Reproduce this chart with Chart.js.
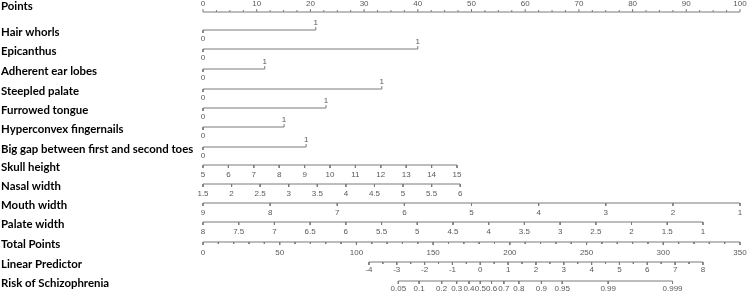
<!DOCTYPE html>
<html>
<head>
<meta charset="utf-8">
<script src="https://cdn.jsdelivr.net/npm/chart.js@4.4.1/dist/chart.umd.min.js"></script>
<style>
  html, body { margin: 0; padding: 0; background: #fff; }
  #wrap { width: 747px; height: 293px; }
</style>
</head>
<body>
<div id="wrap"><canvas id="nomo" width="747" height="293"></canvas></div>
<script>
// Nomogram values.
// Every position is given in "Points" units (0-100 on the top axis).

const pointsLabels = [0, 10, 20, 30, 40, 50, 60, 70, 80, 90, 100];
const pointsMinorStep = 2.5;

// binary predictors: points for value 1 (value 0 sits at 0 points)
const binaryNames = ['Hair whorls', 'Epicanthus', 'Adherent ear lobes', 'Steepled palate',
    'Furrowed tongue', 'Hyperconvex fingernails', 'Big gap between first and second toes'];
const binaryPoints = [21.0, 40.0, 11.5, 33.3, 22.9, 15.1, 19.2];

// continuous predictors: tick labels and the points at first / last label
const skullLabels = [5, 6, 7, 8, 9, 10, 11, 12, 13, 14, 15];
const skullPoints = [0, 47.3];
const nasalLabels = [1.5, 2, 2.5, 3, 3.5, 4, 4.5, 5, 5.5, 6];
const nasalPoints = [0, 47.9];
const mouthLabels = [9, 8, 7, 6, 5, 4, 3, 2, 1];
const mouthPoints = [0, 100];
const palateLabels = [8, 7.5, 7, 6.5, 6, 5.5, 5, 4.5, 4, 3.5, 3, 2.5, 2, 1.5, 1];
const palatePoints = [0, 93.1];

const totalLabels = [0, 50, 100, 150, 200, 250, 300, 350];
const totalMinorStep = 10;
const lpLabels = [-4, -3, -2, -1, 0, 1, 2, 3, 4, 5, 6, 7, 8];
const lpPoints = [30.9, 93.1];
const lpMinorStep = 0.5;
const riskLabels = [0.05, 0.1, 0.2, 0.3, 0.4, 0.5, 0.6, 0.7, 0.8, 0.9, 0.95, 0.99, 0.999];

// layout: y of each axis line (in canvas px)
const rowY = [12, 30, 49, 69, 89, 108, 127, 147, 165, 184, 203, 222, 242, 262, 281];

const lineColor = '#7a7a7a';
const textColor = '#595959';

function lerp(labels, range) {
    const a = labels[0], b = labels[labels.length - 1];
    return v => range[0] + (v - a) / (b - a) * (range[1] - range[0]);
}

// rows: { name, y, ticks: [{ x, len, label, side }] }  side: -1 above, 1 below
const rows = [];

// Points
(function () {
    const ticks = [];
    for (let v = 0; v <= 100 + 1e-9; v += pointsMinorStep) {
        const major = pointsLabels.includes(v);
        ticks.push({ x: v, len: major ? -3 : -2, label: major ? String(v) : null, side: -1 });
    }
    rows.push({ name: 'Points', ticks, off: -8 });
})();

binaryNames.forEach((n, i) => {
    rows.push({
        name: n,
        ticks: [
            { x: 0, len: 3, label: '0', side: 1 },
            { x: binaryPoints[i], len: -3, label: '1', side: -1 }
        ],
        off: 9
    });
});

function contRow(name, labels, range) {
    const f = lerp(labels, range);
    rows.push({
        name,
        ticks: labels.map(v => ({ x: f(v), len: 3, label: String(v), side: 1 })),
        off: 10
    });
}
contRow('Skull height', skullLabels, skullPoints);
contRow('Nasal width', nasalLabels, nasalPoints);
contRow('Mouth width', mouthLabels, mouthPoints);
contRow('Palate width', palateLabels, palatePoints);

// Total points
(function () {
    const ticks = [];
    const f = lerp(totalLabels, [0, 100]);
    for (let v = 0; v <= 350; v += totalMinorStep) {
        const major = totalLabels.includes(v);
        ticks.push({ x: f(v), len: major ? 3 : 2, label: major ? String(v) : null, side: 1 });
    }
    rows.push({ name: 'Total Points', ticks, off: 11 });
})();

// Linear predictor
const lpToPoints = lerp(lpLabels, lpPoints);
(function () {
    const ticks = [];
    for (let v = -4; v <= 8 + 1e-9; v += lpMinorStep) {
        const major = Number.isInteger(v);
        ticks.push({ x: lpToPoints(v), len: major ? 3 : 2, label: major ? String(v) : null, side: 1 });
    }
    rows.push({ name: 'Linear Predictor', ticks, off: 8 });
})();

// Risk (logistic link)
rows.push({
    name: 'Risk of Schizophrenia',
    ticks: riskLabels.map(p => ({ x: lpToPoints(Math.log(p / (1 - p))), len: 3, label: String(p), side: 1 })),
    off: 8
});

rows.forEach((r, i) => { r.y = rowY[i]; });

// one dataset per row: the axis line plus tick segments, broken with nulls
const datasets = rows.map(r => {
    const xs = r.ticks.map(t => t.x);
    const data = [{ x: Math.min(...xs), y: r.y }, { x: Math.max(...xs), y: r.y }];
    r.ticks.forEach(t => {
        data.push({ x: t.x, y: null });
        data.push({ x: t.x, y: r.y });
        data.push({ x: t.x, y: r.y + t.len });
    });
    return {
        label: r.name,
        data,
        borderColor: lineColor,
        borderWidth: 1,
        pointRadius: 0,
        spanGaps: false,
        fill: false,
        tension: 0,
        clip: false
    };
});

const labelPlugin = {
    id: 'nomoLabels',
    afterDatasetsDraw(chart) {
        const { ctx, scales } = chart;
        ctx.save();
        ctx.textBaseline = 'middle';
        rows.forEach(r => {
            ctx.fillStyle = '#000';
            ctx.textAlign = 'left';
            ctx.font = 'bold 11.4px Lato';
            ctx.fillText(r.name, 1, scales.y.getPixelForValue(r.y + (r.name === 'Points' ? -6 : 2)));
            ctx.fillStyle = textColor;
            ctx.textAlign = 'center';
            ctx.font = '8px "Liberation Sans"';
            r.ticks.forEach(t => {
                if (t.label === null) return;
                const off = t.side < 0 ? (r.name === 'Points' ? -8 : -7) : r.off;
                ctx.fillText(t.label, scales.x.getPixelForValue(t.x), scales.y.getPixelForValue(r.y + off));
            });
        });
        ctx.restore();
    }
};

new Chart(document.getElementById('nomo'), {
    type: 'line',
    data: { datasets },
    options: {
        responsive: false,
        animation: false,
        devicePixelRatio: 1,
        layout: { padding: { left: 203, right: 7, top: 0, bottom: 0 } },
        scales: {
            x: { type: 'linear', min: 0, max: 100, display: false },
            y: { type: 'linear', min: 0, max: 293, reverse: true, display: false }
        },
        plugins: { legend: { display: false }, tooltip: { enabled: false } }
    },
    plugins: [labelPlugin]
});
</script>
</body>
</html>
